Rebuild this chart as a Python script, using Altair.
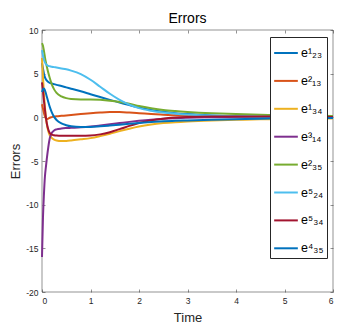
import altair as alt
import pandas as pd

# time samples (shared by all series)
T = [0, 0.02, 0.04, 0.06, 0.08, 0.1, 0.13, 0.16, 0.2, 0.25, 0.3, 0.4, 0.5, 0.6, 0.8,
     1.0, 1.2, 1.4, 1.6, 1.8, 2.0, 2.25, 2.5, 2.75, 3.0, 3.5, 4.0, 4.5, 5.0, 6.0]

E23_1 = [6.2, 5.6, 5.0, 4.6, 4.35, 4.2, 4.05, 3.95, 3.88, 3.8, 3.72, 3.58, 3.43, 3.28, 2.98,
         2.65, 2.32, 2.0, 1.7, 1.4, 1.12, 0.85, 0.64, 0.48, 0.37, 0.22, 0.13, 0.08, 0.04, 0.0]
E13_2 = [1.5, 1.0, 0.5, 0.1, -0.12, -0.2, -0.15, -0.05, 0.02, 0.08, 0.12, 0.17, 0.22, 0.27, 0.37,
         0.47, 0.55, 0.6, 0.6, 0.55, 0.48, 0.38, 0.3, 0.23, 0.17, 0.1, 0.06, 0.04, 0.03, 0.01]
E34_1 = [6.8, 4.6, 2.7, 1.2, 0.0, -0.8, -1.6, -2.05, -2.35, -2.55, -2.65, -2.72, -2.7, -2.65, -2.52,
         -2.38, -2.15, -1.88, -1.58, -1.3, -1.05, -0.82, -0.66, -0.55, -0.47, -0.36, -0.29, -0.23, -0.18, -0.12]
E14_3 = [-16.0, -11.5, -8.8, -6.8, -5.7, -4.7, -3.4, -2.4, -1.8, -1.5, -1.38, -1.28, -1.23, -1.2, -1.14,
         -1.05, -0.93, -0.8, -0.66, -0.52, -0.4, -0.27, -0.17, -0.1, -0.05, 0.0, 0.02, 0.02, 0.02, 0.01]
E35_2 = [8.5, 8.2, 7.6, 6.9, 6.3, 5.8, 5.1, 4.5, 3.8, 3.2, 2.8, 2.4, 2.2, 2.1, 2.05,
         2.05, 2.0, 1.9, 1.75, 1.55, 1.3, 1.05, 0.85, 0.72, 0.62, 0.47, 0.37, 0.3, 0.24, 0.16]
E24_5 = [7.7, 7.1, 6.6, 6.3, 6.1, 6.0, 5.9, 5.85, 5.8, 5.75, 5.7, 5.6, 5.5, 5.35, 4.95,
         4.3, 3.5, 2.7, 2.0, 1.45, 1.05, 0.75, 0.55, 0.42, 0.32, 0.2, 0.12, 0.08, 0.05, 0.02]
E34_5 = [4.0, 3.0, 1.9, 0.9, 0.0, -0.7, -1.4, -1.8, -1.98, -2.05, -2.08, -2.1, -2.1, -2.1, -2.1,
         -2.08, -1.95, -1.7, -1.35, -0.98, -0.65, -0.35, -0.15, -0.03, 0.04, 0.09, 0.1, 0.09, 0.08, 0.05]
E35_4 = [2.9, 3.2, 3.3, 3.1, 2.75, 2.35, 1.75, 1.2, 0.6, 0.05, -0.3, -0.7, -0.9, -1.02, -1.1,
         -1.1, -1.03, -0.94, -0.84, -0.74, -0.64, -0.54, -0.46, -0.4, -0.35, -0.27, -0.21, -0.16, -0.12, -0.08]

NAMES = ["e¹₂₃", "e²₁₃", "e¹₃₄", "e³₁₄", "e²₃₅", "e⁵₂₄", "e⁵₃₄", "e⁴₃₅"]
SERIES = [E23_1, E13_2, E34_1, E14_3, E35_2, E24_5, E34_5, E35_4]
COLORS = ["#0072BD", "#D95319", "#EDB120", "#7E2F8E", "#77AC30", "#4DBEEE", "#A2142F", "#0072BD"]

X_TICKS = [0, 1, 2, 3, 4, 5, 6]
Y_TICKS = [-20, -15, -10, -5, 0, 5, 10]

rows = []
for k, (name, vals) in enumerate(zip(NAMES, SERIES)):
    for t, v in zip(T, vals):
        rows.append({"t": t, "v": v, "series": name, "k": k})
df = pd.DataFrame(rows)

FONT = "Liberation Sans"
AX = "#262626"

xs = alt.Scale(domain=[0, 6], nice=False)
ys = alt.Scale(domain=[-20, 10], nice=False)

base = alt.Chart(df)

lines = base.mark_line(strokeWidth=2, interpolate="monotone").encode(
    x=alt.X("t:Q", scale=xs, axis=alt.Axis(
        orient="bottom", values=X_TICKS, title="Time", offset=-3, tickSize=3,
        domain=False, grid=False, labelPadding=4, titlePadding=7,
        labelExpr="'' + datum.value")),
    y=alt.Y("v:Q", scale=ys, axis=alt.Axis(
        orient="left", values=Y_TICKS, title="Errors", offset=-3, tickSize=3,
        domain=False, grid=False, labelPadding=4, titlePadding=3,
        labelExpr="'' + datum.value")),
    color=alt.Color("series:N", scale=alt.Scale(domain=NAMES, range=COLORS),
                    legend=alt.Legend(
                        orient="none", legendX=228, legendY=7, title=None,
                        symbolType="stroke", symbolSize=560, symbolStrokeWidth=2,
                        labelFontSize=12.5, labelFont=FONT, labelColor="#000",
                        strokeColor=AX, fillColor="white", padding=3,
                        rowPadding=7.9, labelOffset=2)),
    detail="k:O",
)

ticks2 = base.mark_line(opacity=0).encode(
    x=alt.X("t:Q", scale=xs, axis=alt.Axis(
        orient="top", values=X_TICKS, title=None, labels=False, offset=-3,
        tickSize=3, domain=False, grid=False)),
    y=alt.Y("v:Q", scale=ys, axis=alt.Axis(
        orient="right", values=Y_TICKS, title=None, labels=False, offset=-3,
        tickSize=3, domain=False, grid=False)),
    detail="k:O",
)

chart = alt.layer(lines, ticks2).resolve_axis(
    x="independent", y="independent"
).properties(
    width=291, height=262,
    title=alt.TitleParams("Errors", fontSize=14, fontWeight="normal",
                          font=FONT, color="#000", offset=0),
    padding={"left": 34, "top": 22, "right": 8, "bottom": 33},
    autosize=alt.AutoSizeParams(type="none"),
    background="white",
).configure_view(
    stroke=AX, strokeWidth=0.5
).configure_axis(
    labelFont=FONT, labelFontSize=8.5, labelColor=AX,
    tickColor=AX, tickWidth=0.5,
    titleFont=FONT, titleFontSize=13, titleFontWeight="normal", titleColor=AX,
)

chart.save("out.html", embed_options={"renderer": "svg", "actions": False})
